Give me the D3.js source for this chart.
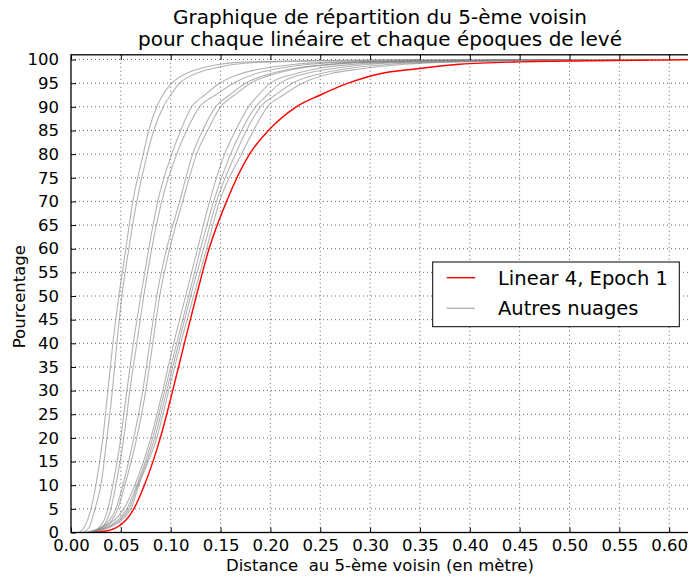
<!DOCTYPE html>
<html>
<head>
<meta charset="utf-8">
<script src="https://cdn.jsdelivr.net/npm/d3@7"></script>
<style>
  html, body { margin: 0; padding: 0; background: #fff; }
  svg { display: block; font-family: "DejaVu Sans", sans-serif; }
</style>
</head>
<body>
<svg id="chart" width="688" height="579"></svg>
<script>
// Percentile levels (y values) at which each curve's distance is read
const levels = [0, 1, 5, 10, 20, 30, 40, 50, 60, 70, 80, 85, 90, 92.5, 95, 97, 98, 99, 99.5, 100];

// Red curve: Linear 4, Epoch 1 (distance in metres at each level)
const linear4Epoch1 = [0.025, 0.045, 0.063, 0.0736, 0.0896, 0.102, 0.1137, 0.1257, 0.1385, 0.156, 0.179, 0.198, 0.226, 0.25, 0.278, 0.31, 0.345, 0.39, 0.45, 0.65];

// Grey curves: other clouds
const autres1 = [0.008, 0.013, 0.020, 0.025, 0.032, 0.037, 0.042, 0.048, 0.055, 0.062, 0.0725, 0.078, 0.086, 0.092, 0.101, 0.115, 0.128, 0.15, 0.18, 0.35];
const autres2 = [0.012, 0.018, 0.024, 0.030, 0.036, 0.0415, 0.046, 0.051, 0.058, 0.066, 0.0765, 0.083, 0.0926, 0.10, 0.109, 0.125, 0.14, 0.165, 0.2, 0.4];
const autres3 = [0.018, 0.028, 0.037, 0.042, 0.050, 0.056, 0.0625, 0.070, 0.078, 0.087, 0.101, 0.110, 0.121, 0.134, 0.149, 0.17, 0.19, 0.225, 0.27, 0.45];
const autres4 = [0.022, 0.031, 0.040, 0.045, 0.053, 0.059, 0.066, 0.073, 0.081, 0.091, 0.106, 0.116, 0.129, 0.145, 0.163, 0.185, 0.205, 0.24, 0.29, 0.48];
const autres5 = [0.020, 0.030, 0.045, 0.052, 0.063, 0.072, 0.079, 0.086, 0.096, 0.109, 0.122, 0.132, 0.145, 0.159, 0.175, 0.2, 0.22, 0.26, 0.3, 0.5];
const autres6 = [0.022, 0.033, 0.047, 0.054, 0.066, 0.075, 0.082, 0.089, 0.099, 0.112, 0.126, 0.137, 0.15, 0.164, 0.18, 0.205, 0.225, 0.265, 0.31, 0.5];
const autres7 = [0.013, 0.030, 0.053, 0.064, 0.080, 0.092, 0.103, 0.115, 0.127, 0.139, 0.154, 0.165, 0.178, 0.188, 0.20, 0.225, 0.245, 0.285, 0.33, 0.5];
const autres8 = [0.016, 0.034, 0.056, 0.066, 0.082, 0.094, 0.106, 0.118, 0.130, 0.143, 0.160, 0.171, 0.185, 0.197, 0.21, 0.235, 0.26, 0.30, 0.35, 0.52];
const autres9 = [0.018, 0.036, 0.058, 0.067, 0.084, 0.096, 0.108, 0.120, 0.133, 0.146, 0.165, 0.176, 0.19, 0.205, 0.222, 0.25, 0.275, 0.32, 0.37, 0.55];
const autres10 = [0.020, 0.038, 0.060, 0.068, 0.086, 0.098, 0.110, 0.123, 0.136, 0.149, 0.171, 0.183, 0.197, 0.213, 0.232, 0.26, 0.29, 0.335, 0.39, 0.58];

const xTickValues = [0.00, 0.05, 0.10, 0.15, 0.20, 0.25, 0.30, 0.35, 0.40, 0.45, 0.50, 0.55, 0.60];
const yTickValues = [0, 5, 10, 15, 20, 25, 30, 35, 40, 45, 50, 55, 60, 65, 70, 75, 80, 85, 90, 95, 100];

const titleLines = ["Graphique de répartition du 5-ème voisin", "pour chaque linéaire et chaque époques de levé"];
const xLabel = "Distance  au 5-ème voisin (en mètre)";
const yLabel = "Pourcentage";
const legendLabels = ["Linear 4, Epoch 1", "Autres nuages"];

// ---------- drawing ----------
const svg = d3.select("#chart");
const pLeft = 71, pBottom = 532.5, pTop = 54.8;
const x = d3.scaleLinear().domain([0, 0.62]).range([pLeft, pLeft + 0.62 * 997]);
const y = d3.scaleLinear().domain([0, 101]).range([pBottom, pTop]);
const pRight = x(0.62);

svg.append("defs").append("clipPath").attr("id", "clip")
  .append("rect").attr("x", pLeft).attr("y", pTop).attr("width", pRight - pLeft).attr("height", pBottom - pTop);

// grid
const grid = svg.append("g").attr("stroke", "#000").attr("stroke-width", 0.7)
  .attr("stroke-dasharray", "1,3").attr("opacity", 0.85);
grid.selectAll(".gx").data(xTickValues.slice(1)).join("line")
  .attr("x1", d => x(d)).attr("x2", d => x(d)).attr("y1", pTop).attr("y2", pBottom);
grid.selectAll(".gy").data(yTickValues.slice(1)).join("line")
  .attr("x1", pLeft).attr("x2", pRight).attr("y1", d => y(d)).attr("y2", d => y(d));

// curves
const line = d3.line().x(d => x(d[0])).y(d => y(d[1])).curve(d3.curveMonotoneX);
const greys = [autres1, autres2, autres3, autres4, autres5, autres6, autres7, autres8, autres9, autres10];
const plot = svg.append("g").attr("clip-path", "url(#clip)");
plot.selectAll(".grey").data(greys).join("path")
  .attr("fill", "none").attr("stroke", "#808080").attr("stroke-opacity", 0.6).attr("stroke-width", 1.1)
  .attr("d", c => line(c.map((d, i) => [d, levels[i]])));
plot.append("path")
  .attr("fill", "none").attr("stroke", "#ff0000").attr("stroke-width", 1.4)
  .attr("d", line(linear4Epoch1.map((d, i) => [d, levels[i]])));

// axes (ticks inside, matplotlib classic style)
const tickLen = 5;
const fmtX = d3.format(".2f");
const xAxisB = d3.axisBottom(x).tickValues(xTickValues).tickSizeInner(-tickLen).tickSizeOuter(0).tickFormat(fmtX);
const xAxisT = d3.axisTop(x).tickValues(xTickValues).tickSizeInner(-tickLen).tickSizeOuter(0).tickFormat("");
const yAxisL = d3.axisLeft(y).tickValues(yTickValues).tickSizeInner(-tickLen).tickSizeOuter(0).tickPadding(tickLen + 7).tickFormat(d3.format("d"));

function styleAxis(g) {
  g.select(".domain").remove();
  g.selectAll(".tick line").attr("stroke", "#000").attr("stroke-width", 1);
  g.selectAll(".tick text").attr("fill", "#000").style("font-size", "16.5px").style("font-family", "DejaVu Sans");
}
svg.append("g").attr("transform", `translate(0,${pBottom})`).call(xAxisB).call(styleAxis)
  .selectAll(".tick text").attr("dy", "0").attr("y", 18.2);
svg.append("g").attr("transform", `translate(0,${pTop})`).call(xAxisT).call(styleAxis);
svg.append("g").attr("transform", `translate(${pLeft},0)`).call(yAxisL).call(styleAxis);

// frame
svg.append("rect").attr("x", pLeft).attr("y", pTop).attr("width", pRight - pLeft).attr("height", pBottom - pTop)
  .attr("fill", "none").attr("stroke", "#000").attr("stroke-width", 1.3);

// title
svg.append("g").selectAll("text").data(titleLines).join("text")
  .attr("x", 380).attr("y", (d, i) => 23.5 + i * 22.8).attr("text-anchor", "middle")
  .style("font-size", "20px").attr("fill", "#000").text(d => d);

// axis labels
svg.append("text").attr("x", 380).attr("y", 571).attr("text-anchor", "middle")
  .style("font-size", "16.5px").style("white-space", "pre").text(xLabel);
svg.append("text").attr("transform", `translate(25,${(pTop + pBottom) / 2 + 3}) rotate(-90)`).attr("text-anchor", "middle")
  .style("font-size", "16.5px").text(yLabel);

// legend
const lg = svg.append("g");
lg.append("rect").attr("x", 432.7).attr("y", 262).attr("width", 246.6).attr("height", 64.7)
  .attr("fill", "#fff").attr("stroke", "#000").attr("stroke-width", 1);
const legendColors = [{c: "#ff0000", o: 1}, {c: "#808080", o: 0.6}];
legendLabels.forEach((lab, i) => {
  const yy = 277.7 + i * 30.6;
  lg.append("line").attr("x1", 446.7).attr("x2", 475).attr("y1", yy).attr("y2", yy)
    .attr("stroke", legendColors[i].c).attr("stroke-opacity", legendColors[i].o).attr("stroke-width", 1.4);
  lg.append("text").attr("x", 498).attr("y", yy + 6.8).style("font-size", "19.5px").attr("fill", "#000").text(lab);
});
</script>
</body>
</html>
